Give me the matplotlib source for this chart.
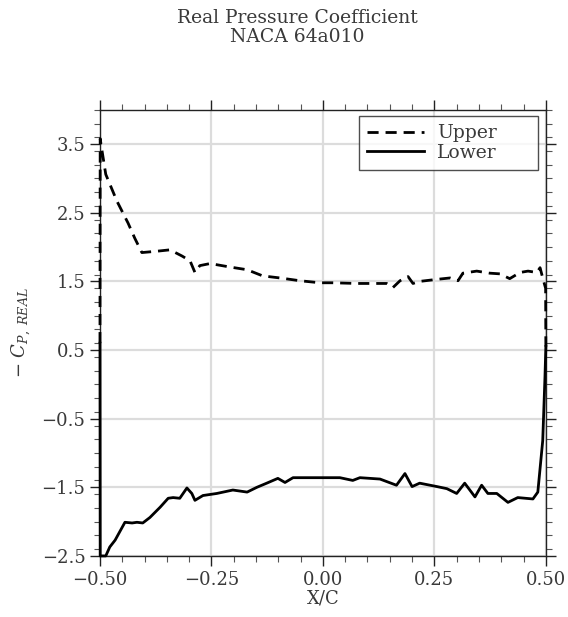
import numpy as np
import matplotlib
matplotlib.use('Agg')
from matplotlib import pyplot as plt
from matplotlib.ticker import MultipleLocator

# upper surface (dashed)
upper_x = [-0.5, -0.4995, -0.497, -0.487, -0.462, -0.437, -0.422, -0.406, -0.372, -0.343,
           -0.316, -0.298, -0.287, -0.276, -0.253, -0.209, -0.170, -0.135, -0.096, -0.052,
           -0.007, 0.022, 0.076, 0.112, 0.143, 0.157, 0.173, 0.191, 0.202, 0.217,
           0.256, 0.285, 0.303, 0.314, 0.345, 0.374, 0.397, 0.419, 0.442, 0.460,
           0.480, 0.487, 0.493, 0.4995, 0.5]
upper_cp = [0.60, 3.58, 3.47, 3.06, 2.67, 2.35, 2.13, 1.92, 1.94, 1.96,
            1.87, 1.80, 1.63, 1.73, 1.76, 1.71, 1.67, 1.58, 1.55, 1.51,
            1.48, 1.48, 1.47, 1.47, 1.47, 1.41, 1.51, 1.57, 1.47, 1.50,
            1.53, 1.55, 1.51, 1.62, 1.65, 1.62, 1.61, 1.54, 1.63, 1.65,
            1.63, 1.70, 1.55, 1.40, 0.55]

# lower surface (solid)
lower_x = [-0.5, -0.4995, -0.487, -0.478, -0.466, -0.444, -0.428, -0.417, -0.404, -0.388, -0.365,
           -0.347, -0.336, -0.321, -0.305, -0.294, -0.287, -0.269, -0.238, -0.202, -0.170,
           -0.148, -0.126, -0.101, -0.085, -0.067, -0.022, 0.038, 0.067, 0.083, 0.128,
           0.165, 0.184, 0.200, 0.217, 0.256, 0.278, 0.300, 0.318, 0.341, 0.356,
           0.370, 0.390, 0.415, 0.437, 0.471, 0.482, 0.493, 0.498, 0.5]
lower_cp = [0.60, -2.50, -2.50, -2.37, -2.27, -2.01, -2.02, -2.01, -2.02, -1.94, -1.79,
            -1.66, -1.65, -1.66, -1.51, -1.59, -1.69, -1.62, -1.59, -1.54, -1.57,
            -1.50, -1.44, -1.37, -1.43, -1.36, -1.36, -1.36, -1.40, -1.36, -1.38,
            -1.47, -1.30, -1.49, -1.44, -1.49, -1.52, -1.59, -1.44, -1.64, -1.47,
            -1.59, -1.59, -1.72, -1.65, -1.67, -1.57, -0.82, 0.10, 0.55]

plt.rcParams['font.family'] = ['DejaVu Serif']
plt.rcParams['mathtext.fontset'] = 'dejavuserif'
txt_col = '#3a3a3a'

fig = plt.figure(figsize=(5.68, 6.17), dpi=100)
ax = fig.add_axes([0.176, 0.099, 0.785, 0.723])

ax.plot(upper_x, upper_cp, color='black', lw=2.0, ls=(0, (4, 2.5)), label='Upper',
        clip_on=False, zorder=3)
ax.plot(lower_x, lower_cp, color='black', lw=2.0, label='Lower', clip_on=False, zorder=3)

ax.set_xlim(-0.5, 0.5)
ax.set_ylim(-2.5, 4.0)
ax.set_xticks([-0.5, -0.25, 0.0, 0.25, 0.5])
ax.set_xticklabels(['\u22120.50', '\u22120.25', '0.00', '0.25', '0.50'])
ax.set_yticks([-2.5, -1.5, -0.5, 0.5, 1.5, 2.5, 3.5])
ax.set_yticklabels(['\u22122.5', '\u22121.5', '\u22120.5', '0.5', '1.5', '2.5', '3.5'])
ax.xaxis.set_minor_locator(MultipleLocator(0.05))
ax.yaxis.set_minor_locator(MultipleLocator(0.2))
ax.tick_params(which='both', direction='out', top=True, right=True,
               labelsize=13, colors='#222222', labelcolor=txt_col)
ax.tick_params(which='major', length=7, width=1)
ax.tick_params(which='minor', length=4, width=0.8, colors='#555555')

ax.grid(True, which='major', color='#dcdcdc', lw=1.6)
ax.set_axisbelow(True)
for sp in ax.spines.values():
    sp.set_linewidth(1.0)
    sp.set_color('#222222')

ax.set_xlabel('X/C', fontsize=13, color=txt_col, labelpad=1)
ax.set_ylabel(r'$-\ C_{P,\ REAL}$', fontsize=13, color=txt_col, labelpad=6)

leg = ax.legend(loc='upper left', bbox_to_anchor=(0.581, 0.0, 0.401, 0.987), mode='expand',
                fontsize=13.5, handlelength=3.0, handletextpad=0.7,
                frameon=True, fancybox=False, edgecolor='#222222', borderaxespad=0.0,
                labelspacing=0.1, borderpad=0.45)
leg.get_frame().set_linewidth(1.0)
for t in leg.get_texts():
    t.set_color(txt_col)

fig.text(0.523, 0.985, 'Real Pressure Coefficient\nNACA 64a010', ha='center', va='top',
         fontsize=13.5, color=txt_col, linespacing=1.05)

plt.savefig('out.png', dpi=100)
